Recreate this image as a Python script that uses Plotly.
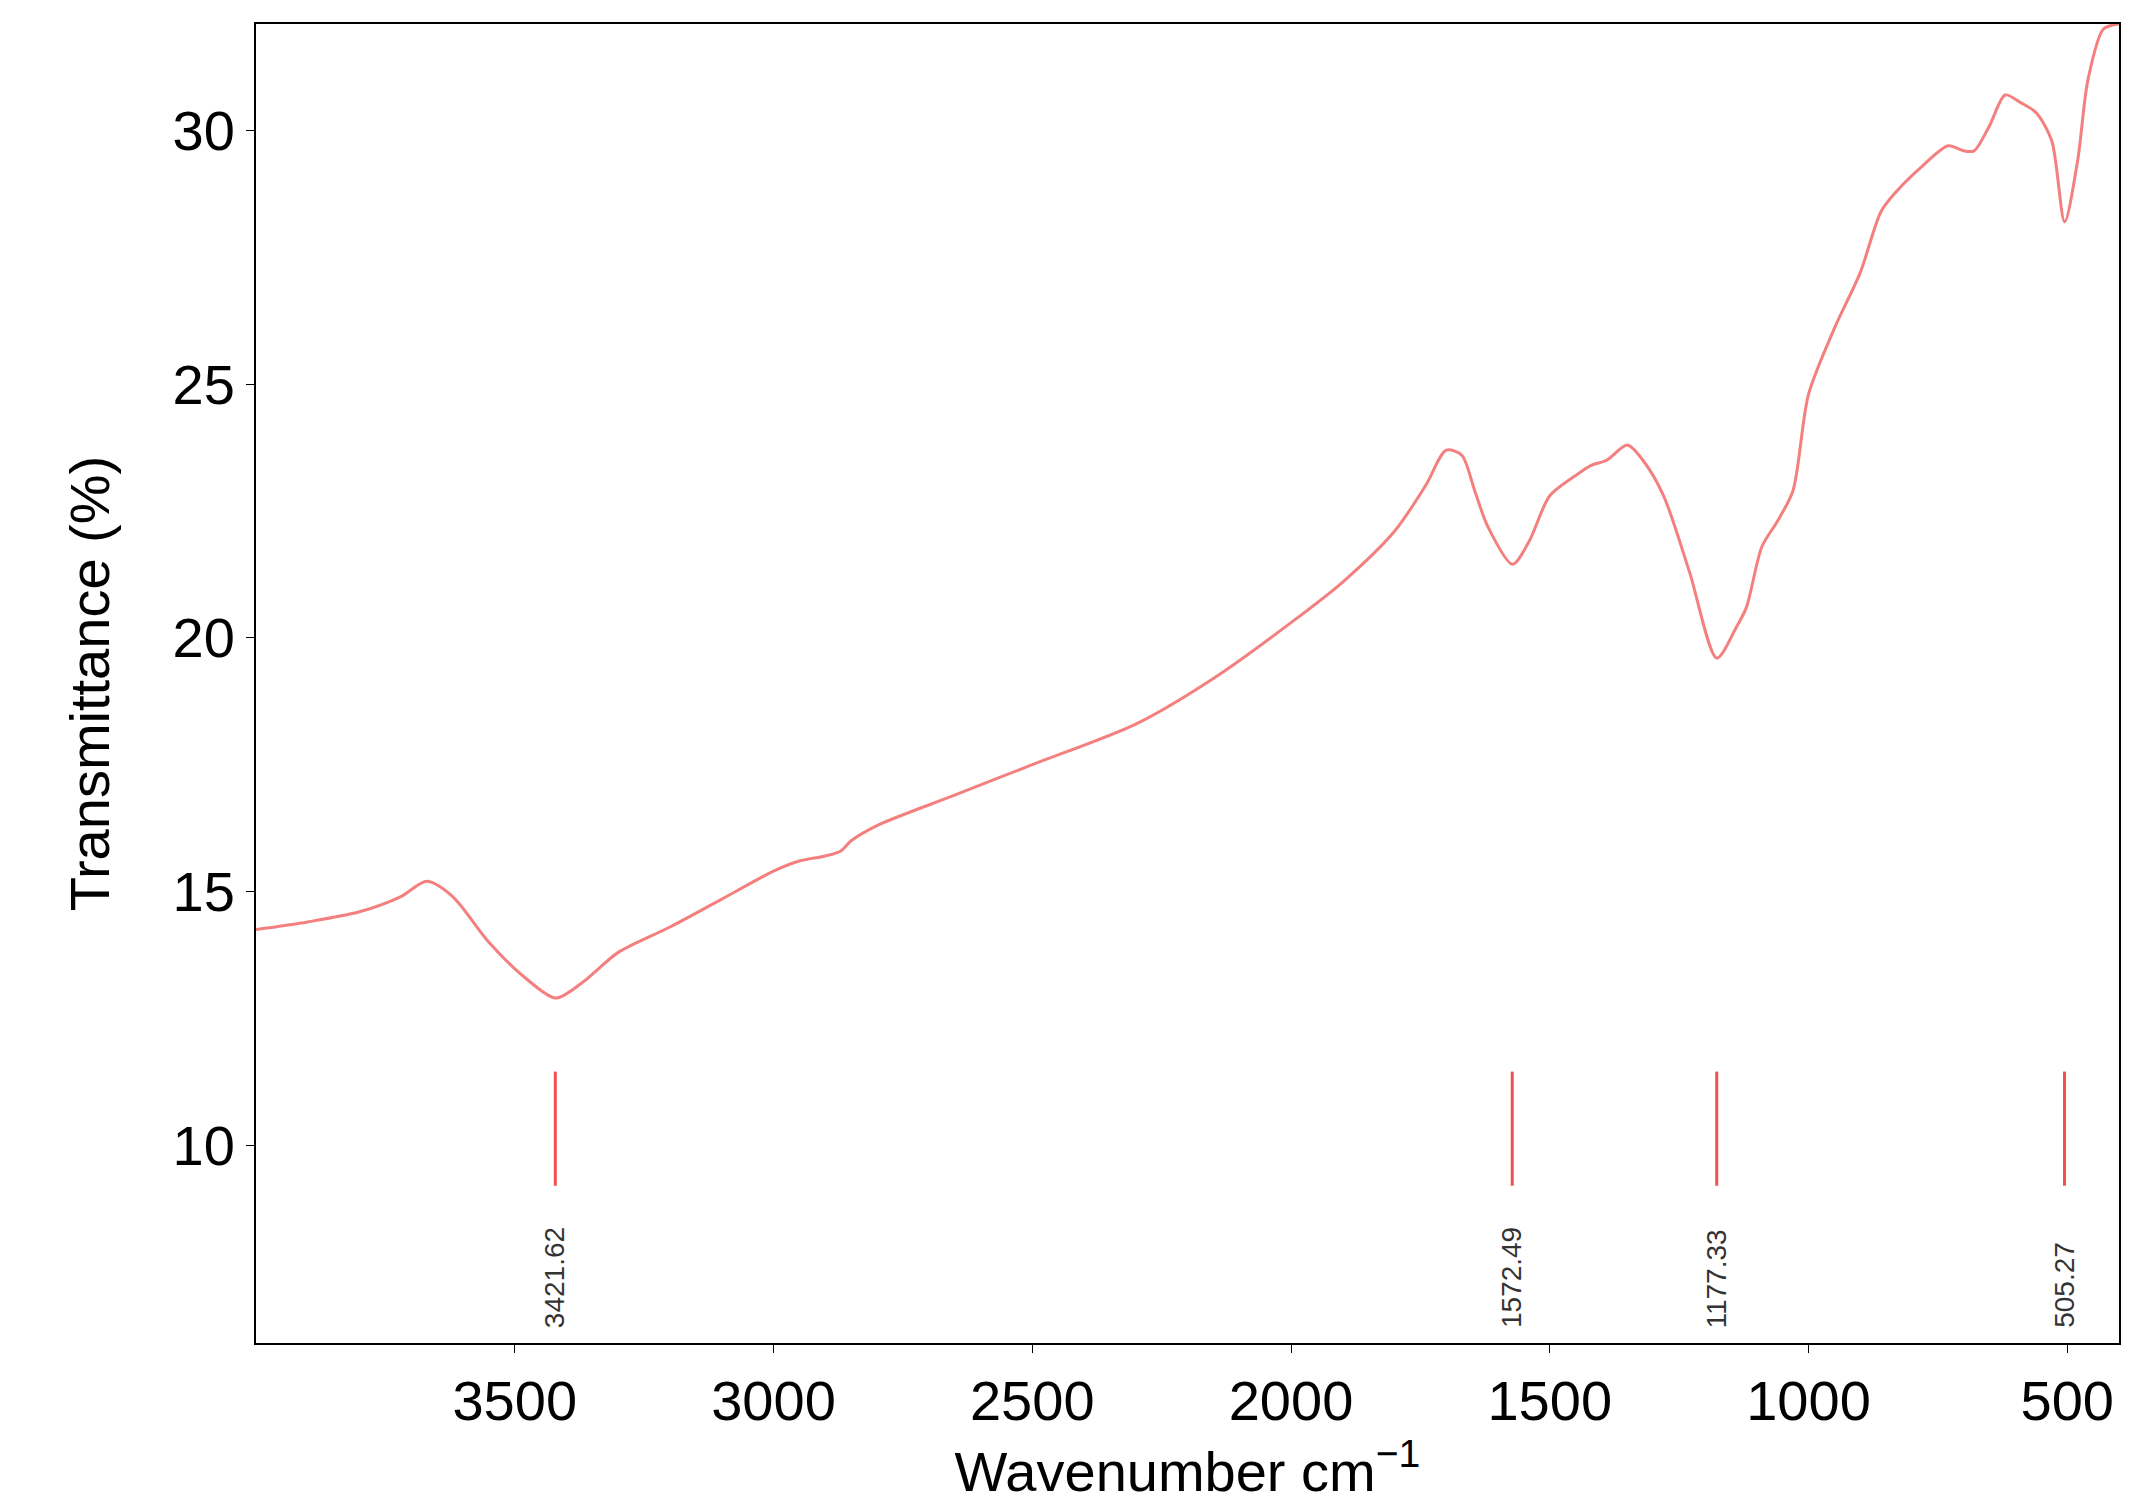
import plotly.graph_objects as go

wavenumber = [4000, 3900, 3800, 3720, 3670, 3620, 3550, 3480, 3421, 3370, 3300, 3200, 3100, 3000, 2950, 2900, 2870, 2850, 2800, 2650, 2500, 2300, 2150, 2000, 1900, 1800, 1740, 1700, 1670, 1645, 1620, 1572, 1540, 1500, 1450, 1420, 1390, 1350, 1320, 1280, 1230, 1177, 1140, 1120, 1090, 1060, 1030, 1000, 950, 900, 860, 830, 780, 730, 700, 680, 650, 620, 590, 560, 530, 505, 480, 460, 430, 400]
transmittance = [14.25, 14.4, 14.6, 14.9, 15.2, 14.9, 14.0, 13.3, 12.9, 13.2, 13.8, 14.3, 14.85, 15.4, 15.6, 15.7, 15.8, 16.0, 16.3, 16.9, 17.5, 18.3, 19.2, 20.3, 21.1, 22.1, 23.0, 23.7, 23.6, 22.9, 22.2, 21.45, 21.9, 22.8, 23.2, 23.4, 23.5, 23.8, 23.5, 22.8, 21.3, 19.6, 20.2, 20.6, 21.8, 22.3, 22.9, 24.8, 26.1, 27.2, 28.4, 28.8, 29.3, 29.7, 29.6, 29.6, 30.1, 30.7, 30.55, 30.35, 29.8, 28.2, 29.4, 31.0, 32.0, 32.1]

peak_positions = [3421.62, 1572.49, 1177.33, 505.27]
peak_labels = ["3421.62", "1572.49", "1177.33", "505.27"]
x_ticks = [3500, 3000, 2500, 2000, 1500, 1000, 500]
y_ticks = [10, 15, 20, 25, 30]

red = "#f47f7f"
fig = go.Figure()
fig.add_trace(go.Scatter(x=wavenumber, y=transmittance, mode="lines",
                         line=dict(color=red, width=3, shape="spline", smoothing=0.8),
                         showlegend=False))
for p, lab in zip(peak_positions, peak_labels):
    fig.add_trace(go.Scatter(x=[p, p], y=[11.45, 9.2], mode="lines",
                             line=dict(color="#f05050", width=3), showlegend=False))
    fig.add_annotation(x=p, y=6.35, text=lab, textangle=-90, showarrow=False,
                       yanchor="bottom", font=dict(size=28, color="#333", family="Liberation Sans"))

axis_common = dict(showgrid=False, zeroline=False, showline=True, linecolor="black", linewidth=2,
                   mirror=True, ticks="outside", ticklen=8, tickcolor="black",
                   tickfont=dict(size=56, color="black"))
fig.update_xaxes(range=[4000, 400], tickvals=x_ticks,
                 title=dict(text="Wavenumber cm<sup>−1</sup>", font=dict(size=56, color="black"), standoff=8),
                 **axis_common)
fig.update_yaxes(range=[6.1, 32.1], tickvals=y_ticks,
                 title=dict(text="Transmittance (%)", font=dict(size=56, color="black"), standoff=45),
                 **axis_common)
fig.update_layout(width=2131, height=1505, plot_bgcolor="white", paper_bgcolor="white",
                  font=dict(family="Liberation Sans"),
                  margin=dict(l=248, r=20, t=16, b=170))
fig.write_html("out.html")
